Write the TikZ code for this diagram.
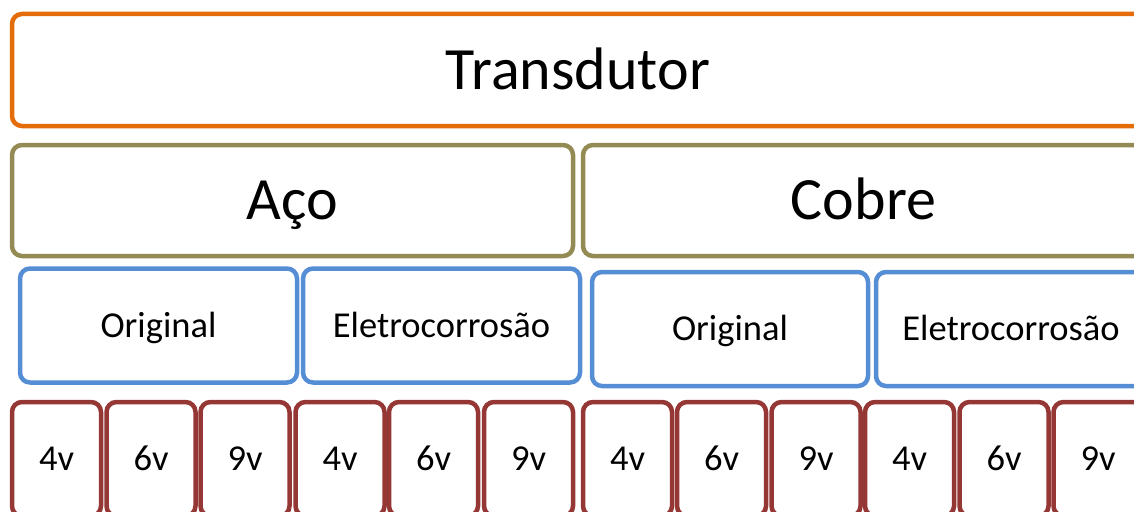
\documentclass[tikz,border=0pt]{standalone}
\usepackage{fontspec}
\setmainfont{Carlito}
\usetikzlibrary{positioning}

\definecolor{transorange}{HTML}{E46C0A}
\definecolor{metalolive}{HTML}{948A54}
\definecolor{treatblue}{HTML}{558ED5}
\definecolor{voltred}{HTML}{953735}

\tikzset{
    box/.style={draw, line width=4.5pt, rounded corners=10pt, inner sep=0pt, anchor=center},
    bigtext/.style={font=\fontsize{60}{72}\selectfont, text height=38pt, text depth=0pt},
    smalltext/.style={font=\fontsize{36.5}{44}\selectfont, text height=23pt, text depth=0pt},
    topbox/.style={box, bigtext, draw=transorange, minimum width=1132pt, minimum height=112pt},
    metalbox/.style={box, bigtext, draw=metalolive, minimum width=561pt, minimum height=111pt},
    treatbox/.style={box, smalltext, draw=treatblue, minimum width=277pt, minimum height=114pt},
    voltbox/.style={box, smalltext, draw=voltred, minimum width=89pt, minimum height=114pt}
}

\begin{document}
\begin{tikzpicture}[x=1pt, y=-1pt]
    \useasboundingbox (0,0) rectangle (1134,511);
    \clip (0,0) rectangle (1134,511);

    % top level
    \node[topbox] (transdutor) at (578,70) {Transdutor};

    % metals
    \node[metalbox, minimum height=111pt] (aco) at (292.5,200.5) {Aço};
    \node[metalbox] (cobre) at (863.5,200.5) {Cobre};

    % treatments
    \node[treatbox] (aco original) at (158.5,325.5) {Original};
    \node[treatbox] (aco eletro) at (441.5,325.5) {Eletrocorrosão};
    \node[treatbox, minimum width=276pt] (cobre original) at (730,329) {Original};
    \node[treatbox, minimum width=270pt] (cobre eletro) at (1011,329) {Eletrocorrosão};

    % voltages
    \foreach \x/\v [count=\i] in {56.5/4v, 151/6v, 245/9v, 340/4v, 433.5/6v, 528.5/9v,
            627.5/4v, 721.5/6v, 816/9v, 909.5/4v, 1004/6v, 1098/9v}
        \node[voltbox] (volt-\i) at (\x,459) {\v};
\end{tikzpicture}
\end{document}
